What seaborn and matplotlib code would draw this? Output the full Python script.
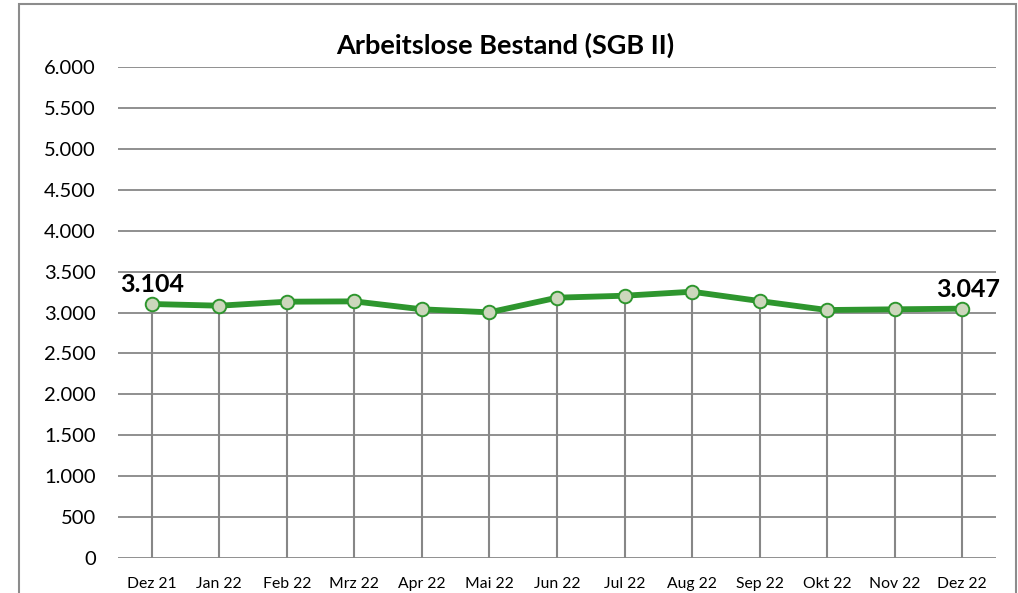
import matplotlib
matplotlib.use("Agg")
import matplotlib.pyplot as plt
import seaborn as sns
import pandas as pd
from matplotlib.patches import Rectangle
from matplotlib.ticker import FuncFormatter

months = ["Dez 21", "Jan 22", "Feb 22", "Mrz 22", "Apr 22", "Mai 22", "Jun 22",
          "Jul 22", "Aug 22", "Sep 22", "Okt 22", "Nov 22", "Dez 22"]
values = [3104, 3083, 3132, 3136, 3039, 3002, 3181, 3205, 3254, 3140, 3030, 3039, 3047]
yticks = [0, 500, 1000, 1500, 2000, 2500, 3000, 3500, 4000, 4500, 5000, 5500, 6000]
title = "Arbeitslose Bestand (SGB II)"

sns.set_theme(style="white")
plt.rcParams['font.family'] = ['Lato', 'DejaVu Sans']
plt.rcParams['text.color'] = 'black'

df = pd.DataFrame({"Monat": months, "Wert": values})
df["pos"] = range(len(months))

fig = plt.figure(figsize=(10.18, 5.93), dpi=100)
ax = fig.add_axes([118/1018, 1-558/593, (996-118)/1018, (558-67)/593])

grid_c = "#878787"
for t in yticks:
    ax.axhline(t, color=grid_c, lw=1.3, zorder=1)
ax.vlines(df["pos"], 0, df["Wert"], color=grid_c, lw=1.5, zorder=2)

sns.lineplot(data=df, x="pos", y="Wert", ax=ax, color="#2E962E", lw=4.2,
             zorder=3, legend=False)
ax.scatter(df["pos"], df["Wert"], s=95, facecolor="#CCD7BC", edgecolor="#2E962E",
           linewidths=1.4, zorder=4)

ax.set_xlim(-0.5, len(months) - 0.5)
ax.set_ylim(0, 6000)
ax.set_xticks(df["pos"])
ax.set_xticklabels(months, fontsize=11.3)
ax.set_yticks(yticks)
ax.yaxis.set_major_formatter(FuncFormatter(lambda v, p: f"{int(v):,}".replace(",", ".")))
ax.tick_params(axis="y", labelsize=14.5, length=0, pad=16, colors="black")
ax.tick_params(axis="x", length=0, pad=13.5, colors="black")
ax.set_xlabel("")
ax.set_ylabel("")
for s in ax.spines.values():
    s.set_visible(False)
ax.patch.set_alpha(0)

ax.annotate(f"{values[0]:,}".replace(",", "."), (0, values[0]), xytext=(0, 6),
            textcoords="offset points", ha="center", va="bottom",
            fontsize=18, fontweight="bold", color="black")
ax.annotate(f"{values[-1]:,}".replace(",", "."), (len(values)-1, values[-1]),
            xytext=(4, 5.5), textcoords="offset points", ha="center", va="bottom",
            fontsize=18, fontweight="bold", color="black")

fig.text(505/1018, 1-45/593, title, ha="center", va="center", fontsize=19.5,
         fontweight="bold", color="black")

fig.add_artist(Rectangle((19/1018, -0.02), (1016-19)/1018, 1-4/593+0.02,
                         transform=fig.transFigure, fill=False,
                         edgecolor="#8C8C8C", lw=1.5))

fig.savefig("out.png", dpi=100)
